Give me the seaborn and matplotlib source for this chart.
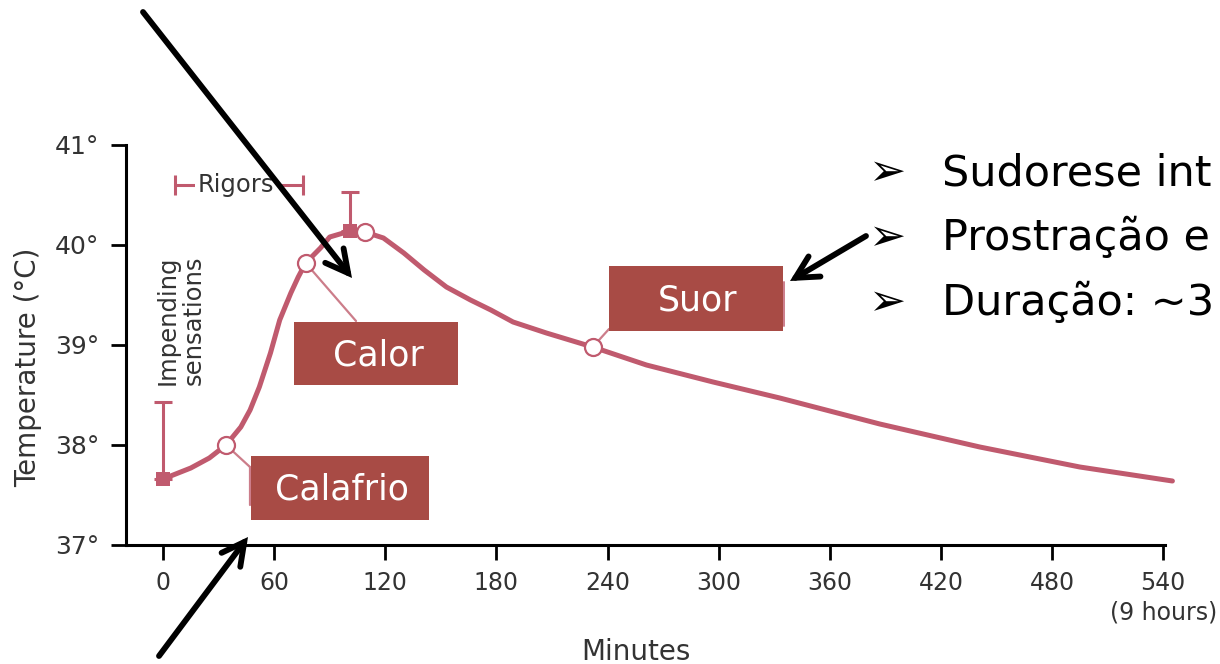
import numpy as np
import pandas as pd
import matplotlib
matplotlib.use("Agg")
import matplotlib.pyplot as plt
import seaborn as sns
from matplotlib.patches import Rectangle, FancyArrowPatch
from matplotlib.lines import Line2D

# ---------------- data ----------------
minutes = [0, 15, 25, 34, 42, 47, 52, 58, 63, 69, 73, 77, 85, 90, 101, 109, 119, 130,
           141, 153, 166, 177, 189, 207, 232, 261, 297, 333, 387, 441, 495, 545]
temps = [37.66, 37.77, 37.87, 38.00, 38.18, 38.35, 38.58, 38.92, 39.25, 39.52, 39.68,
         39.82, 39.97, 40.08, 40.14, 40.13, 40.07, 39.92, 39.75, 39.58, 39.45, 39.35,
         39.23, 39.12, 38.98, 38.80, 38.63, 38.47, 38.21, 37.98, 37.78, 37.64]
open_min = [34, 77, 109, 232]
open_temp = [38.00, 39.82, 40.13, 38.98]
square_min = [0, 101]
square_temp = [37.66, 40.14]
err_top = [38.43, 40.53]
rigors_start, rigors_end, rigors_temp = 6.5, 75.5, 40.6
xticks = [0, 60, 120, 180, 240, 300, 360, 420, 480, 540]
xtick_labels = ["0", "60", "120", "180", "240", "300", "360", "420", "480", "540\n(9 hours)"]
yticks = [37, 38, 39, 40, 41]
ytick_labels = ["37°", "38°", "39°", "40°", "41°"]
box_labels = ["Calafrio", "Calor", "Suor"]
bullet_lines = ["Sudorese int", "Prostração e", "Duração: ~3"]

CURVE = "#C05A6E"
LEADER = "#CC7D8A"
BOX = "#A84B45"
W, H = 1220, 664

sns.set_theme(style="ticks")
plt.rcParams["font.family"] = ["DejaVu Sans"]

fig = plt.figure(figsize=(W / 100, H / 100), dpi=100)
fig.patch.set_facecolor("white")


def fx(x):
    return x / W


def fy(y):
    return 1 - y / H


ax = fig.add_axes([fx(126), fy(545), (1165 - 126) / W, 400 / H])
ax.set_facecolor("white")

df = pd.DataFrame({"Minutes": minutes, "Temperature": temps})
sns.lineplot(data=df, x="Minutes", y="Temperature", ax=ax, color=CURVE, lw=3.6,
             clip_on=False, zorder=3, sort=False)
ax.lines[-1].set_solid_joinstyle("round")

# error bars (top only)
ax.errorbar(square_min, square_temp,
            yerr=[np.zeros(len(square_temp)), np.array(err_top) - np.array(square_temp)],
            fmt="none", ecolor=CURVE, elinewidth=2.2, capsize=6.5, capthick=2.2, zorder=2)

# markers
sns.scatterplot(x=square_min, y=square_temp, ax=ax, marker="s", s=90, color=CURVE,
                edgecolor=CURVE, linewidth=0, zorder=4, clip_on=False)
sns.scatterplot(x=open_min, y=open_temp, ax=ax, marker="o", s=150, facecolor="white",
                edgecolor=CURVE, linewidth=1.6, zorder=5, clip_on=False)

# rigors bracket
rig_mid = (rigors_start + rigors_end) / 2
ax.errorbar([rig_mid], [rigors_temp], xerr=[(rigors_end - rigors_start) / 2], fmt="none",
            ecolor=CURVE, elinewidth=2.2, capsize=7.5, capthick=2.2, zorder=2, clip_on=False)
ax.text(rig_mid - 1.5, rigors_temp, "Rigors", ha="center", va="center", fontsize=17.5,
        color="#333333", zorder=3,
        bbox=dict(boxstyle="square,pad=0.12", fc="white", ec="none"))

ax.text(9.5, 39.25, "Impending\nsensations", rotation=90, ha="center", va="center",
        fontsize=17.5, color="#333333", multialignment="center", linespacing=1.1)

# axes styling
ax.set_xlim(-20, 541)
ax.set_ylim(37, 41)
ax.set_xticks(xticks)
ax.set_xticklabels(xtick_labels, fontsize=17, color="#333333", linespacing=1.25)
ax.set_yticks(yticks)
ax.set_yticklabels(ytick_labels, fontsize=18, color="#333333")
ax.tick_params(axis="x", direction="out", length=11, width=2, color="black", pad=8)
ax.tick_params(axis="y", direction="out", length=11, width=2, color="black", pad=8)
for s in ["top", "right"]:
    ax.spines[s].set_visible(False)
for s in ["left", "bottom"]:
    ax.spines[s].set_color("black")
    ax.spines[s].set_linewidth(2.2)
ax.set_xlabel("")
ax.set_ylabel("")
fig.text(fx(28), fy(367), "Temperature (°C)", rotation=90, ha="center", va="center",
         fontsize=20, color="#333333")
fig.text(fx(636), fy(652), "Minutes", ha="center", va="center", fontsize=20,
         color="#333333")

# leader lines from markers to the boxes
leader_targets = [(250, 467), (356, 321), (609, 329)]
for (mx, mt), (px, py) in zip([(open_min[0], open_temp[0]), (open_min[1], open_temp[1]),
                               (open_min[3], open_temp[3])], leader_targets):
    ax.annotate("", xy=(mx, mt), xytext=(px, H - py), textcoords="figure pixels",
                arrowprops=dict(arrowstyle="-", color=LEADER, lw=1.6, shrinkA=0, shrinkB=0),
                zorder=1, annotation_clip=False)
fig.add_artist(Line2D([fx(250), fx(250)], [fy(467), fy(505)], color=LEADER, lw=1.6, zorder=2))
fig.add_artist(Line2D([fx(783.5), fx(783.5)], [fy(282), fy(326)], color=LEADER, lw=1.4, zorder=2))

# label boxes (pixel rectangles: left, top, right, bottom)
box_rects = [(251, 456, 429, 520), (294, 322, 458, 385), (609, 266, 783, 331)]
for lab, (l, t, r, b) in zip(box_labels, box_rects):
    fig.add_artist(Rectangle((fx(l), fy(b)), (r - l) / W, (b - t) / H,
                             transform=fig.transFigure, fc=BOX, ec="none", zorder=3))
    fig.text(fx((l + r) / 2 + 2), fy((t + b) / 2 + 2), lab, ha="center", va="center",
             fontsize=25, color="white", zorder=4)

# bullets on the right
for i, line in enumerate(bullet_lines):
    yc = 173 + i * 65
    fig.text(fx(887), fy(yc), "➢", ha="center", va="center", fontsize=32, color="black",
             zorder=6)
    fig.text(fx(942), fy(yc), line, ha="left", va="center", fontsize=31, color="black",
             zorder=6)

# black arrows
for (x0, y0), (x1, y1) in [((143, 12), (352, 278)), ((159, 656), (248, 537)),
                           ((866, 236), (790, 281))]:
    fig.add_artist(FancyArrowPatch((fx(x0), fy(y0)), (fx(x1), fy(y1)),
                                   transform=fig.transFigure,
                                   arrowstyle="->,head_length=0.8,head_width=0.42",
                                   mutation_scale=20, lw=4.2, color="black",
                                   shrinkA=0, shrinkB=0, zorder=7,
                                   capstyle="round", joinstyle="miter"))

fig.savefig("out.png", dpi=100, facecolor="white")
